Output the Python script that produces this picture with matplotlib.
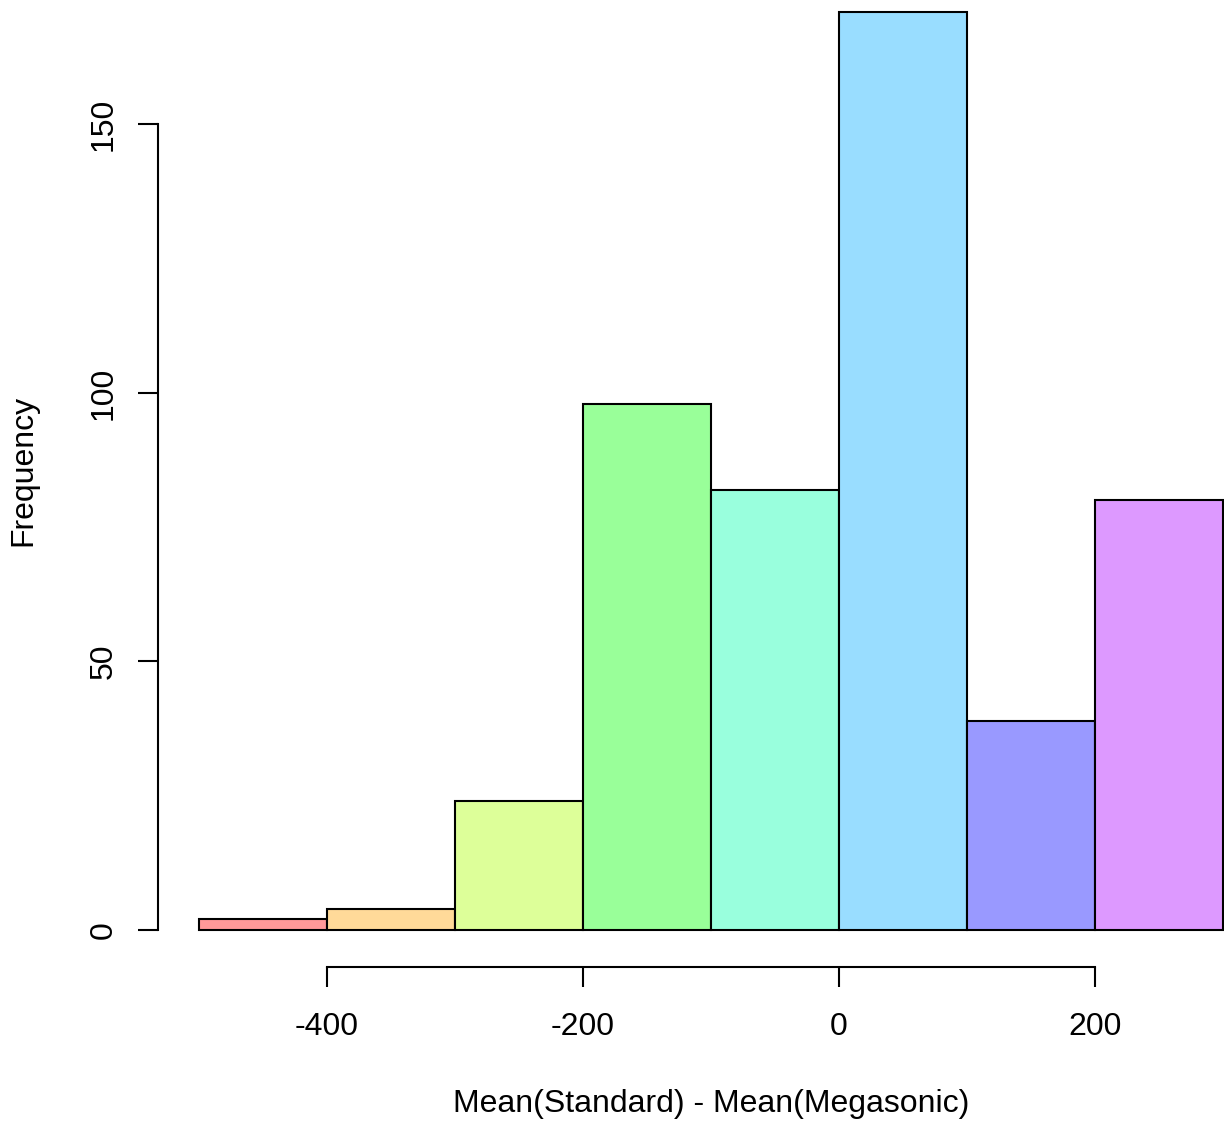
import matplotlib
matplotlib.use("Agg")
import matplotlib.pyplot as plt
import numpy as np

# histogram bins and counts
bin_edges = [-500, -400, -300, -200, -100, 0, 100, 200, 300]
counts = [2, 4, 24, 98, 82, 171, 39, 80]
bar_colors = ["#FF9999", "#FFDA99", "#DDFF99", "#99FF99",
              "#99FFDD", "#99DDFF", "#9999FF", "#DD99FF"]
x_ticks = [-400, -200, 0, 200]
y_ticks = [0, 50, 100, 150]
x_label = "Mean(Standard) - Mean(Megasonic)"
y_label = "Frequency"

plt.rcParams["font.family"] = ["Liberation Sans", "DejaVu Sans"]

fig = plt.figure(figsize=(12.24, 11.22), dpi=100)
ax = fig.add_axes([0.12908, 0.1384, 0.9036, 0.8839])

edges = np.array(bin_edges)
ax.bar(edges[:-1], counts, width=np.diff(edges), align="edge",
       color=bar_colors, edgecolor="black", linewidth=1.5)

# R-style padding: 4% on each side
xr = edges[-1] - edges[0]
ax.set_xlim(edges[0] - 0.04 * xr, edges[-1] + 0.04 * xr)
ymax = max(counts)
ax.set_ylim(-0.04 * ymax, ymax * 1.04)

for s in ["top", "right"]:
    ax.spines[s].set_visible(False)
ax.spines["left"].set_bounds(y_ticks[0], y_ticks[-1])
ax.spines["bottom"].set_bounds(x_ticks[0], x_ticks[-1])
for s in ["left", "bottom"]:
    ax.spines[s].set_linewidth(1.5)

ax.set_xticks(x_ticks)
ax.set_yticks(y_ticks)
ax.set_xticklabels([str(v) for v in x_ticks])
ax.set_yticklabels([str(v) for v in y_ticks], rotation=90, va="center")
ax.tick_params(direction="out", length=14.4, width=1.5, labelsize=23)
ax.tick_params(axis="x", pad=18)
ax.tick_params(axis="y", pad=14)

ax.set_xlabel(x_label, fontsize=23, labelpad=34)
ax.set_ylabel(y_label, fontsize=23, labelpad=36)

fig.savefig("out.png", dpi=100)
